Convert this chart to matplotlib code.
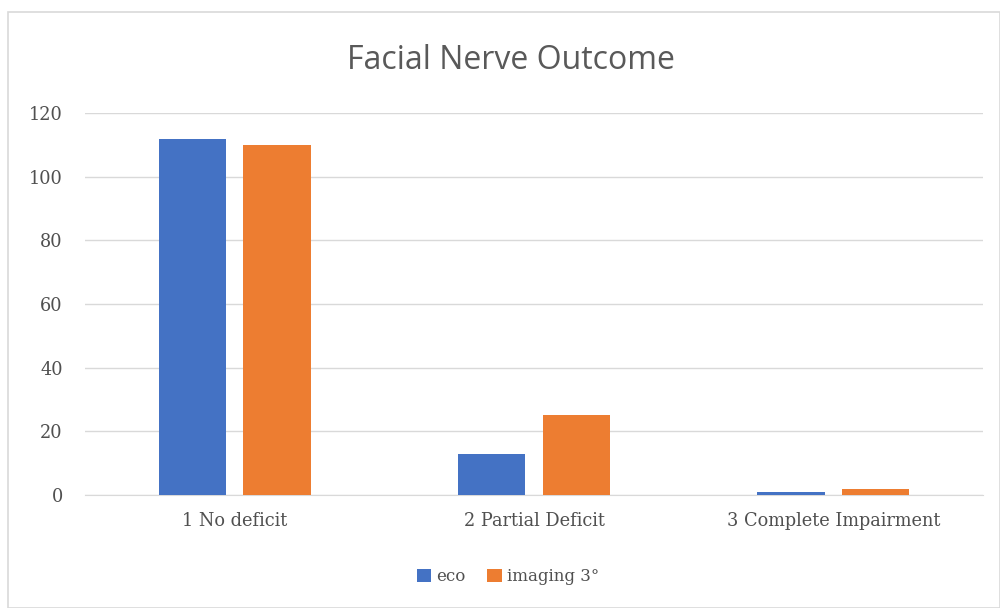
import numpy as np
import matplotlib
matplotlib.use("Agg")
import matplotlib.pyplot as plt
from matplotlib.patches import Rectangle

plt.rcParams['font.family'] = ['DejaVu Serif']

categories = ["1 No deficit", "2 Partial Deficit", "3 Complete Impairment"]
eco = [112, 13, 1]
imaging = [110, 25, 2]
series_names = ["eco", "imaging 3°"]
yticks = [0, 20, 40, 60, 80, 100, 120]

blue = "#4472C4"
orange = "#ED7D31"
text_grey = "#595959"

fig = plt.figure(figsize=(10, 6.08), dpi=100)

# light chart frame around everything
fig.patches.append(Rectangle((0.008, 0.0), 0.992, 0.98, transform=fig.transFigure,
                             fill=False, edgecolor="#D9D9D9", linewidth=1.2))

ax = fig.add_axes([0.085, 0.186, 0.898, 0.628])

x = np.arange(len(categories))
width = 0.225
gap = 0.057
ax.bar(x - (width + gap) / 2, eco, width, color=blue, label=series_names[0], zorder=3)
ax.bar(x + (width + gap) / 2, imaging, width, color=orange, label=series_names[1], zorder=3)

ax.set_xlim(-0.5, len(categories) - 0.5)
ax.set_ylim(0, 120)
ax.set_yticks(yticks)
ax.set_xticks(x)
ax.set_xticklabels(categories)
ax.yaxis.grid(True, color="#D9D9D9", linewidth=1, zorder=0)
ax.set_axisbelow(True)
for s in ["top", "right", "left"]:
    ax.spines[s].set_visible(False)
ax.spines["bottom"].set_color("#D9D9D9")
ax.tick_params(axis="both", length=0, colors="#505050", labelsize=12.8)
ax.tick_params(axis="x", pad=12)
ax.tick_params(axis="y", pad=16)

fig.text(0.511, 0.9, "Facial Nerve Outcome", ha="center", va="center",
         fontsize=23, color=text_grey, family=["Open Sans", "DejaVu Sans"])

fig.legend(loc="center", bbox_to_anchor=(0.508, 0.051), ncol=2, frameon=False,
           fontsize=12, labelcolor="#505050", handlelength=0.85, handleheight=0.85,
           handletextpad=0.3, columnspacing=1.3)

fig.savefig("out.png", dpi=100)
